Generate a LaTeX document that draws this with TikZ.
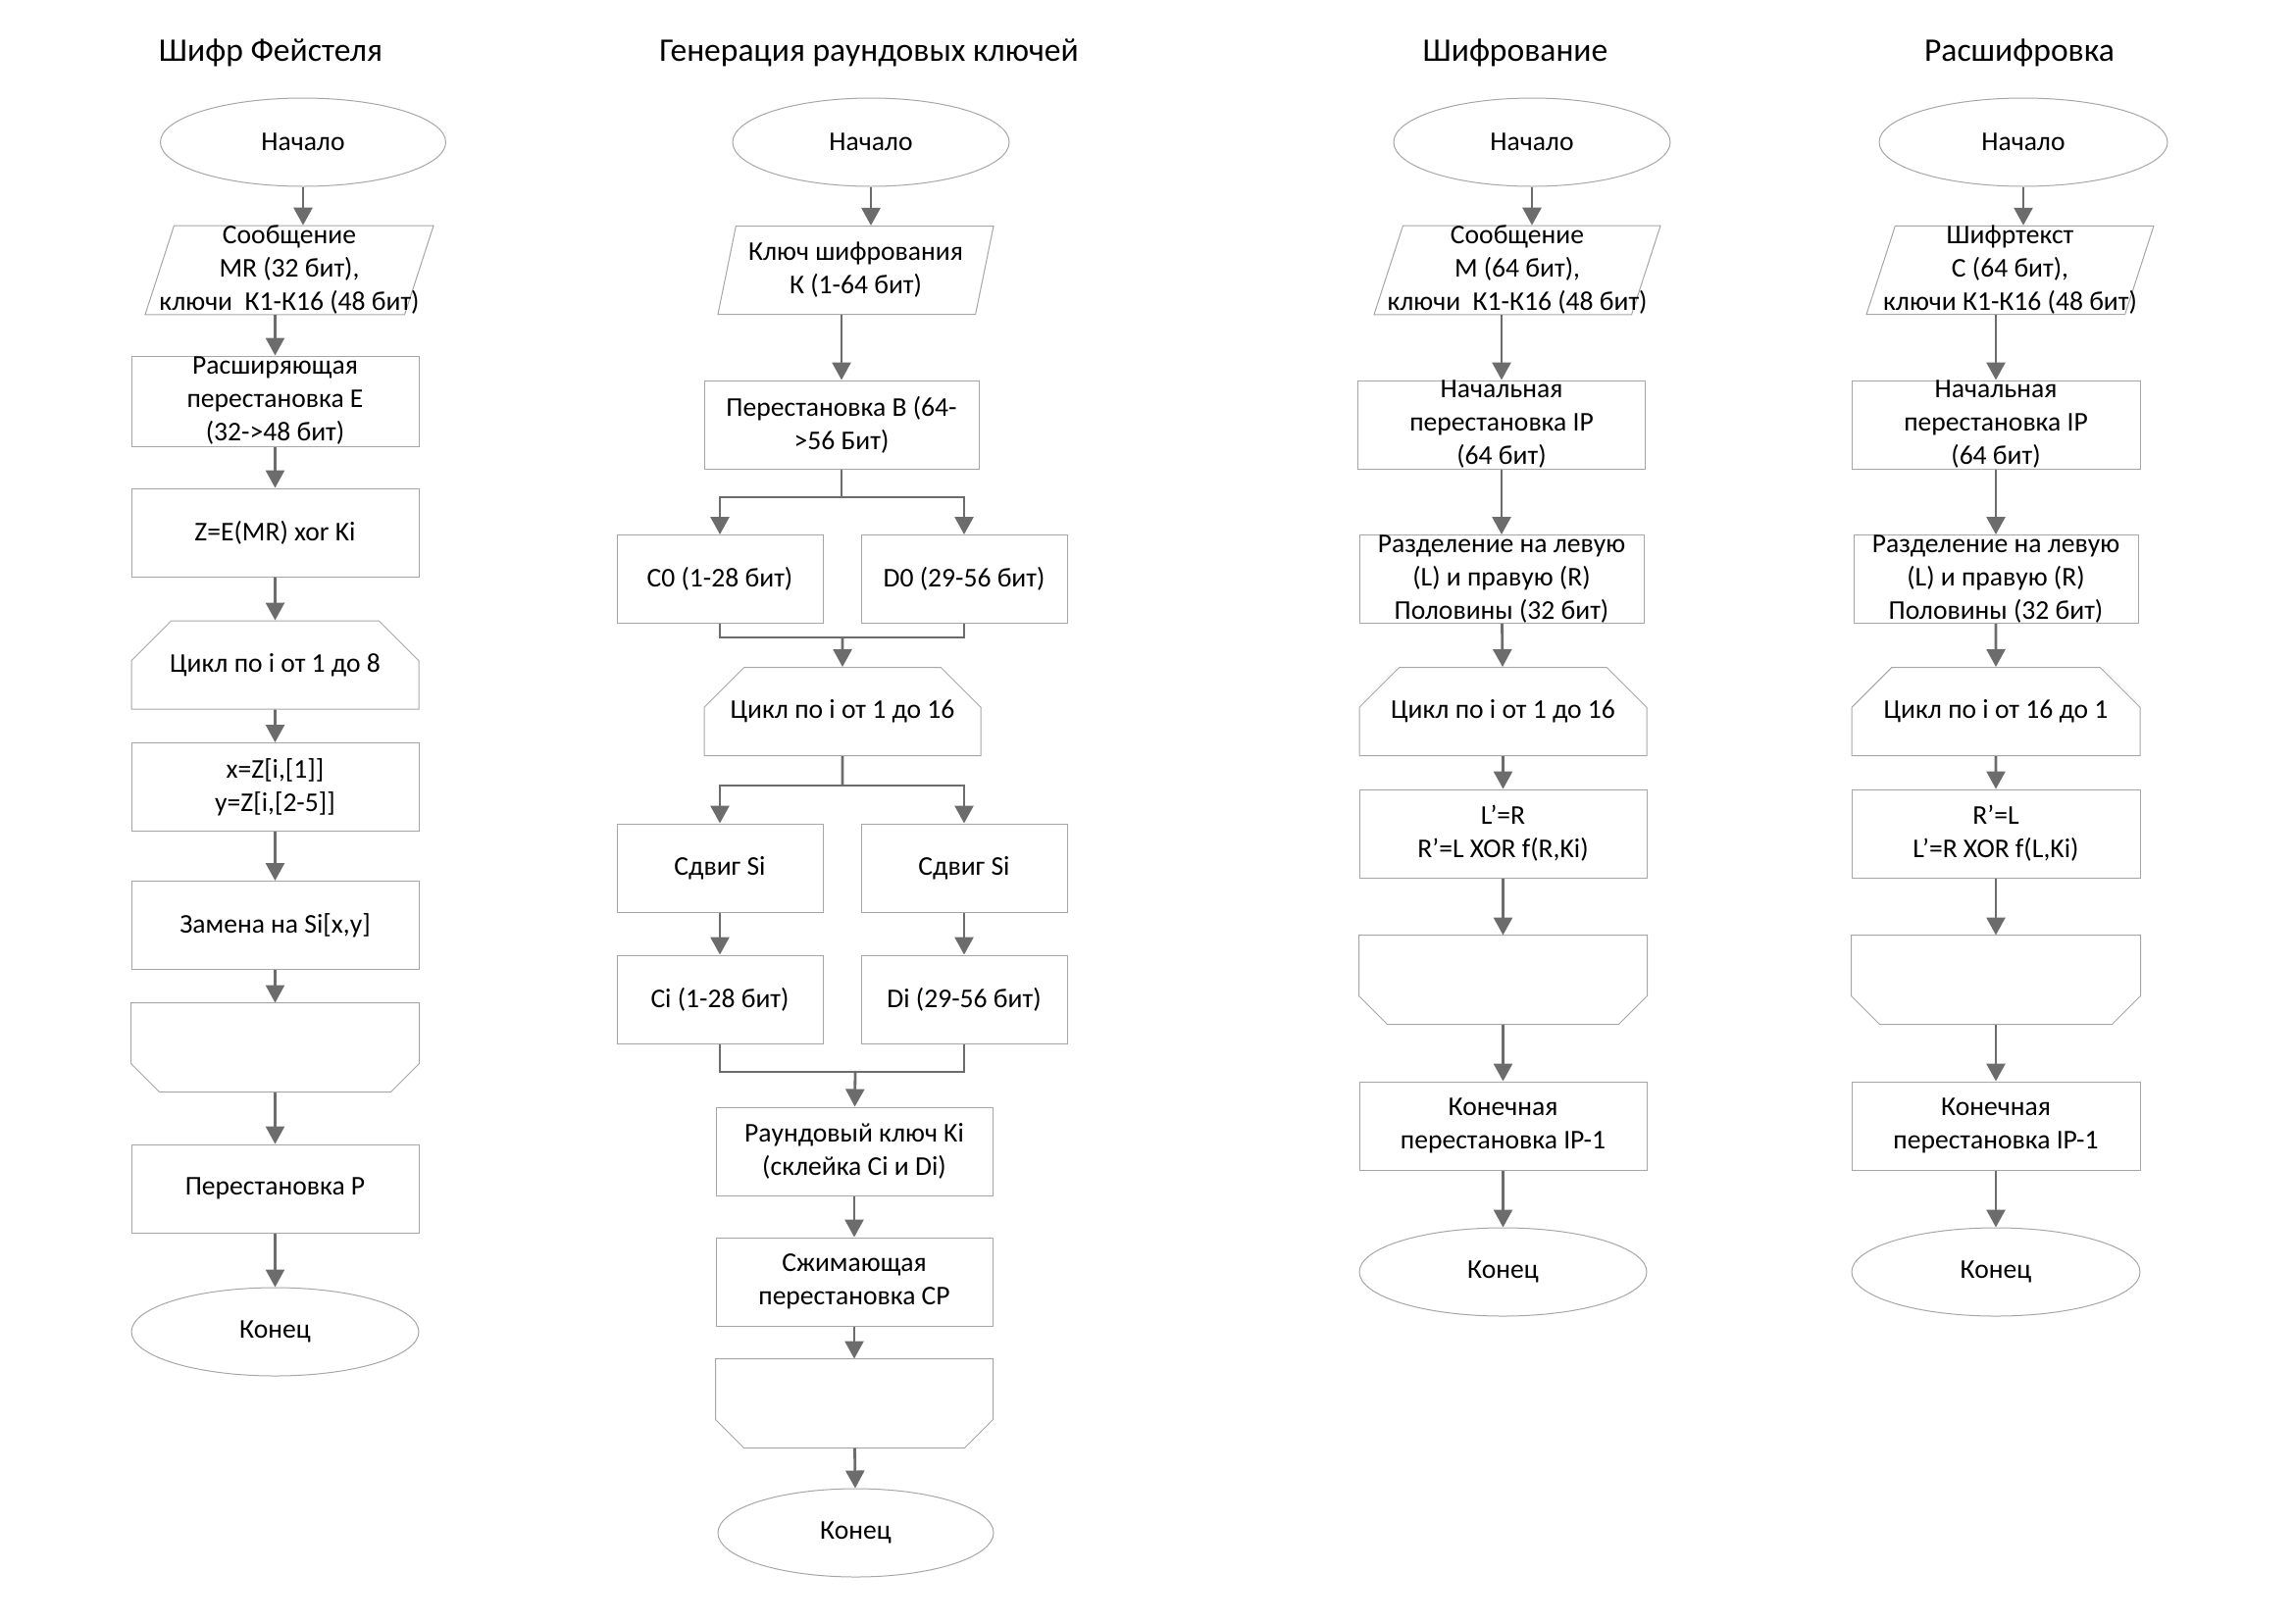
\documentclass[tikz,border=0pt]{standalone}
\usepackage{fontspec}
\setmainfont{Carlito}
\usetikzlibrary{shapes.geometric,shapes.misc,arrows.meta}

\definecolor{boxgray}{RGB}{166,166,166}
\definecolor{arrowgray}{RGB}{108,108,108}

\tikzset{
    block/.style={rectangle, draw=boxgray, line width=0.5pt, inner sep=0pt,
        minimum width=146.5pt, minimum height=45pt, align=center,
        font=\fontsize{13.8}{17}\selectfont},
    terminal/.style={block, ellipse},
    startnode/.style={terminal},
    io/.style={block, trapezium, trapezium left angle=72, trapezium right angle=108,
        trapezium stretches body, inner xsep=-20pt},
    loopstart/.style={block, chamfered rectangle, chamfered rectangle sep=14.5pt,
        chamfered rectangle corners={north west,north east}},
    loopend/.style={block, draw=none},
    heading/.style={anchor=base, font=\fontsize{16.8}{19}\selectfont},
    arr/.style={draw=arrowgray, line width=1.4pt, -{Triangle[width=9.5pt,length=9pt]}},
    wire/.style={draw=arrowgray, line width=1.4pt},
}

\begin{document}
\begin{tikzpicture}[x=0.5pt, y=-0.5pt]
    \useasboundingbox (0,0) rectangle (2340,1655);

    \node[heading] (tF) at (276,62) {Шифр Фейстеля};
    \node[heading] (tG) at (886,62) {Генерация раундовых ключей};
    \node[heading] (tE) at (1545,62) {Шифрование};
    \node[heading] (tD) at (2059,62) {Расшифровка};

    \node[startnode, minimum width=145.5pt] (fStart) at (309,145) {Начало};
    \node[io, minimum width=147pt] (fIn) at (295,275.5) {Сообщение\\MR (32 бит),\\ключи\ \ К1-К16 (48 бит)};
    \node[block, minimum height=46pt] (fE) at (280.5,409) {Расширяющая\\перестановка E\\(32->48 бит)};
    \node[block] (fZ) at (280.5,543) {Z=E(MR) xor Ki};
    \node[loopstart] (fLoop) at (280.5,678) {Цикл по i от 1 до 8};
    \node[block] (fXY) at (280.5,802.5) {x=Z[i,[1]]\\y=Z[i,[2-5]]};
    \node[block] (fS) at (280.5,943.5) {Замена на Si[x,y]};
    \node[loopend] (fLoopEnd) at (280.5,1068) {};
    \node[block] (fP) at (280.5,1212) {Перестановка P};
    \node[terminal] (fEnd) at (280.5,1358) {Конец};

    \node[startnode, minimum width=141pt] (gStart) at (888,145) {Начало};
    \node[io, minimum width=140.5pt] (gKey) at (872.5,275.5) {Ключ шифрования\\К (1-64 бит)};
    \node[block, minimum width=140pt] (gB) at (858,433) {Перестановка B (64-\\>56 Бит)};
    \node[block, minimum width=105pt] (gC0) at (734,590.5) {C0 (1-28 бит)};
    \node[block, minimum width=105pt] (gD0) at (983,590.5) {D0 (29-56 бит)};
    \node[loopstart, minimum width=141pt] (gLoop) at (859,725.5) {Цикл по i от 1 до 16};
    \node[block, minimum width=105pt] (gShiftC) at (734,885) {Сдвиг Si};
    \node[block, minimum width=105pt] (gShiftD) at (983,885) {Сдвиг Si};
    \node[block, minimum width=105pt] (gCi) at (734,1019) {Ci (1-28 бит)};
    \node[block, minimum width=105pt] (gDi) at (983,1019) {Di (29-56 бит)};
    \node[block, minimum width=141pt] (gKi) at (871,1174) {Раундовый ключ Ki\\(склейка Ci и Di)};
    \node[block, minimum width=141pt] (gCP) at (871,1307) {Сжимающая\\перестановка CP};
    \node[loopend, minimum width=141pt] (gLoopEnd) at (871,1431) {};
    \node[terminal, minimum width=140.5pt] (gEnd) at (872.5,1563) {Конец};

    \node[startnode, minimum width=141pt] (eStart) at (1562,145) {Начало};
    \node[io, minimum width=146pt] (eIn) at (1547,275.5) {Сообщение\\M (64 бит),\\ключи\ \ К1-К16 (48 бит)};
    \node[block] (eIP) at (1531,433) {Начальная\\перестановка IP\\(64 бит)};
    \node[block, minimum width=145pt] (eHalf) at (1531,590.5) {Разделение на левую\\(L) и правую (R)\\Половины (32 бит)};
    \node[loopstart] (eLoop) at (1532.5,725.5) {Цикл по i от 1 до 16};
    \node[block] (eRound) at (1532.5,850) {L’=R\\R’=L XOR f(R,Ki)};
    \node[loopend] (eLoopEnd) at (1532.5,999) {};
    \node[block] (eFP) at (1532.5,1148) {Конечная\\перестановка IP-1};
    \node[terminal] (eEnd) at (1532.5,1297) {Конец};

    \node[startnode, minimum width=147pt] (dStart) at (2063,145) {Начало};
    \node[io, minimum width=146.5pt] (dIn) at (2049.5,275.5) {Шифртекст\\C (64 бит),\\ключи К1-К16 (48 бит)};
    \node[block, minimum width=147pt] (dIP) at (2035,433) {Начальная\\перестановка IP\\(64 бит)};
    \node[block, minimum width=145pt] (dHalf) at (2035,590.5) {Разделение на левую\\(L) и правую (R)\\Половины (32 бит)};
    \node[loopstart, minimum width=147pt] (dLoop) at (2035,725.5) {Цикл по i от 16 до 1};
    \node[block, minimum width=147pt] (dRound) at (2035,850) {R’=L\\L’=R XOR f(L,Ki)};
    \node[loopend, minimum width=147pt] (dLoopEnd) at (2035,999) {};
    \node[block, minimum width=147pt] (dFP) at (2035,1148) {Конечная\\перестановка IP-1};
    \node[terminal, minimum width=147pt] (dEnd) at (2035,1297) {Конец};

    \foreach \n in {fLoopEnd,gLoopEnd,eLoopEnd,dLoopEnd}
        \draw[draw=boxgray, line width=0.5pt] (\n.north west) -- (\n.north east)
            -- ([yshift=14.5pt]\n.south east) -- ([xshift=-14.5pt]\n.south east)
            -- ([xshift=14.5pt]\n.south west) -- ([yshift=14.5pt]\n.south west) -- cycle;

    \coordinate (gSplit1) at (858,507);
    \coordinate (gJoin1) at (859,650);
    \coordinate (gSplit2) at (859,801);
    \coordinate (gJoin2) at (872,1093);

    \path
        (fStart.south) edge[arr] (fStart.south |- fIn.north)
        (fE.north |- fIn.south) edge[arr] (fE)
        (fE) edge[arr] (fZ)
        (fZ) edge[arr] (fLoop)
        (fLoop) edge[arr] (fXY)
        (fXY) edge[arr] (fS)
        (fS) edge[arr] (fLoopEnd)
        (fLoopEnd) edge[arr] (fP)
        (fP) edge[arr] (fEnd)

        (gStart.south) edge[arr] (gStart.south |- gKey.north)
        (gB.north |- gKey.south) edge[arr] (gB)
        (gJoin1) edge[arr] (gLoop)
        (gShiftC) edge[arr] (gCi)
        (gShiftD) edge[arr] (gDi)
        (gJoin2) edge[arr] (gKi)
        (gKi) edge[arr] (gCP)
        (gCP) edge[arr] (gLoopEnd)
        (gLoopEnd) edge[arr] (gEnd)

        (eStart.south) edge[arr] (eStart.south |- eIn.north)
        (eIP.north |- eIn.south) edge[arr] (eIP)
        (eIP) edge[arr] (eHalf)
        (eHalf) edge[arr] (eLoop)
        (eLoop) edge[arr] (eRound)
        (eRound) edge[arr] (eLoopEnd)
        (eLoopEnd) edge[arr] (eFP)
        (eFP) edge[arr] (eEnd)

        (dStart.south) edge[arr] (dStart.south |- dIn.north)
        (dIP.north |- dIn.south) edge[arr] (dIP)
        (dIP) edge[arr] (dHalf)
        (dHalf) edge[arr] (dLoop)
        (dLoop) edge[arr] (dRound)
        (dRound) edge[arr] (dLoopEnd)
        (dLoopEnd) edge[arr] (dFP)
        (dFP) edge[arr] (dEnd)
        ;

    \draw[wire] (gB) -- (gSplit1);
    \draw[arr] (gSplit1) -| (gC0);
    \draw[arr] (gSplit1) -| (gD0);
    \draw[wire] (gC0) |- (gJoin1) -| (gD0);
    \draw[wire] (gLoop) -- (gSplit2);
    \draw[arr] (gSplit2) -| (gShiftC);
    \draw[arr] (gSplit2) -| (gShiftD);
    \draw[wire] (gCi) |- (gJoin2) -| (gDi);
\end{tikzpicture}
\end{document}
